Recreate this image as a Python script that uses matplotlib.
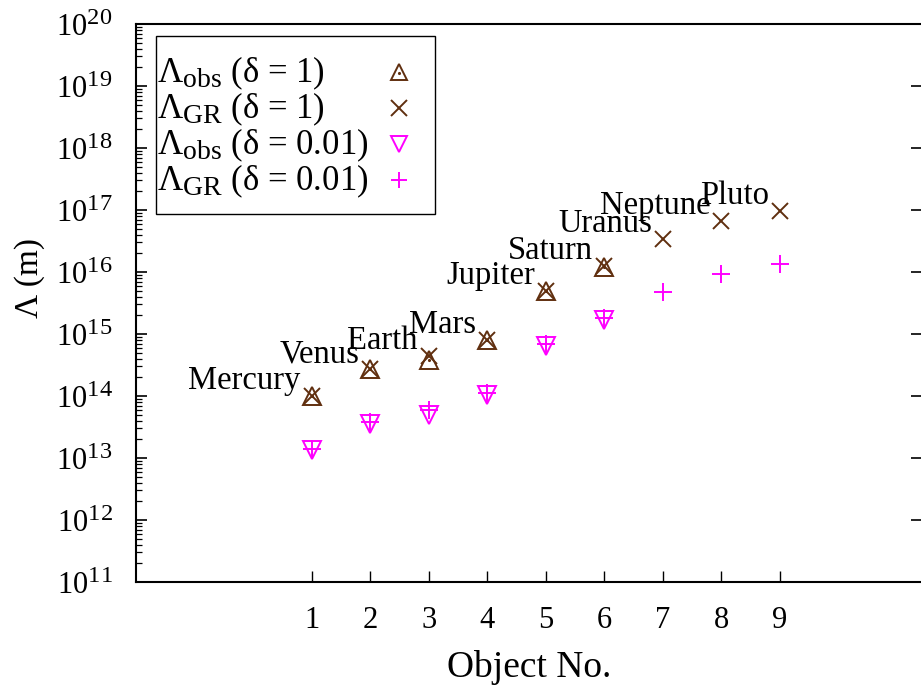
import numpy as np
import matplotlib
matplotlib.use("Agg")
import matplotlib.pyplot as plt
import matplotlib._mathtext as mtext
from matplotlib.ticker import LogLocator, NullFormatter, FixedLocator

# gnuplot draws sub/superscripts larger than mathtext does
mtext.SHRINK_FACTOR = 0.8

plt.rcParams['font.family'] = ['Liberation Serif', 'DejaVu Serif']
plt.rcParams['mathtext.fontset'] = 'custom'
plt.rcParams['mathtext.rm'] = 'Liberation Serif'
plt.rcParams['mathtext.it'] = 'Liberation Serif:italic'

# data
obj_no = [1, 2, 3, 4, 5, 6, 7, 8, 9]
names = ["Mercury", "Venus", "Earth", "Mars", "Jupiter", "Saturn", "Uranus", "Neptune", "Pluto"]
obs_d1 = [1.0e14, 2.7e14, 3.8e14, 8.0e14, 4.9e15, 1.2e16]          # only first 6 objects
gr_d1 = [1.0e14, 2.7e14, 4.5e14, 8.0e14, 5.0e15, 1.25e16, 3.4e16, 6.6e16, 9.6e16]
obs_d001 = [1.35e13, 3.6e13, 4.9e13, 1.05e14, 6.5e14, 1.7e15]
gr_d001 = [1.4e13, 3.8e13, 5.9e13, 1.1e14, 6.8e14, 1.8e15, 4.8e15, 9.4e15, 1.35e16]

brown = '#602f0f'
mag = '#ff00ff'

fig = plt.figure(figsize=(9.21, 6.9), dpi=100)
ax = fig.add_axes([136/921, 1 - 582/690, (922 - 136)/921, (582 - 24)/690])

ax.plot(obj_no[:6], obs_d1, ls='none', marker='^', ms=13, mfc='none', mec=brown, mew=1.4)
ax.plot(obj_no[:6], obs_d1, ls='none', marker='.', ms=2.5, color=brown)
ax.plot(obj_no, gr_d1, ls='none', marker='x', ms=12, mec=brown, mew=1.4)
ax.plot(obj_no[:6], obs_d001, ls='none', marker='v', ms=13, mfc='none', mec=mag, mew=1.4)
ax.plot(obj_no, gr_d001, ls='none', marker='+', ms=13, mec=mag, mew=1.4)

for x, y, n in zip(obj_no, gr_d1, names):
    ax.annotate(n, (x, y), xytext=(-11, 15), textcoords='offset pixels',
                ha='right', va='center', fontsize=23.5)

ax.set_yscale('log')
ax.set_ylim(1e11, 1e20)
ax.set_xlim(-2, 1 + (922 - 312) / 58.5)

ax.yaxis.set_major_locator(LogLocator(base=10, numticks=20))
ax.yaxis.set_minor_locator(LogLocator(base=10, subs=np.arange(2, 10), numticks=20))
ax.yaxis.set_minor_formatter(NullFormatter())
ax.xaxis.set_major_locator(FixedLocator(obj_no))
ax.set_xticklabels([str(i) for i in obj_no])

ax.tick_params(axis='y', which='major', direction='in', length=8, width=1.2,
               labelsize=22, left=True, right=True, pad=17)
ax.tick_params(axis='y', which='minor', direction='in', length=4, width=0.9,
               left=True, right=False)
ax.tick_params(axis='x', which='major', direction='in', length=8, width=1.0,
               labelsize=22, top=False, pad=17)

for s in ax.spines.values():
    s.set_linewidth(1.5)

ax.set_xlabel('Object No.', fontsize=27, labelpad=11)
ax.set_ylabel('Λ (m)', fontsize=24)
ax.yaxis.set_label_coords(-0.116, 0.545)

# key box, drawn like the original (text left, symbol right)
fx = lambda px: (px - 136) / (922 - 136)
fy = lambda py: (582 - py) / (582 - 24)
ax.add_patch(plt.Rectangle((fx(156), fy(214)), fx(435) - fx(156), fy(36) - fy(214),
                           transform=ax.transAxes, fill=False, lw=1.0, ec='black'))
key_rows = [
    ('Λ$_{\\rm obs}$ (δ = 1)', dict(marker='^', mfc='none', mec=brown)),
    ('Λ$_{\\rm GR}$ (δ = 1)', dict(marker='x', mec=brown)),
    ('Λ$_{\\rm obs}$ (δ = 0.01)', dict(marker='v', mfc='none', mec=mag)),
    ('Λ$_{\\rm GR}$ (δ = 0.01)', dict(marker='+', mec=mag)),
]
row_y = [73, 109, 145, 181]
for (lab, mk), py in zip(key_rows, row_y):
    ax.text(fx(157), fy(py), lab, transform=ax.transAxes, ha='left', va='center', fontsize=25)
    ax.plot([fx(399)], [fy(py - 1)], ls='none', ms=12, mew=1.4, transform=ax.transAxes,
            clip_on=False, **mk)
ax.plot([fx(399)], [fy(73)], ls='none', marker='.', ms=2.5, color=brown, transform=ax.transAxes)

fig.savefig('out.png', dpi=100)
